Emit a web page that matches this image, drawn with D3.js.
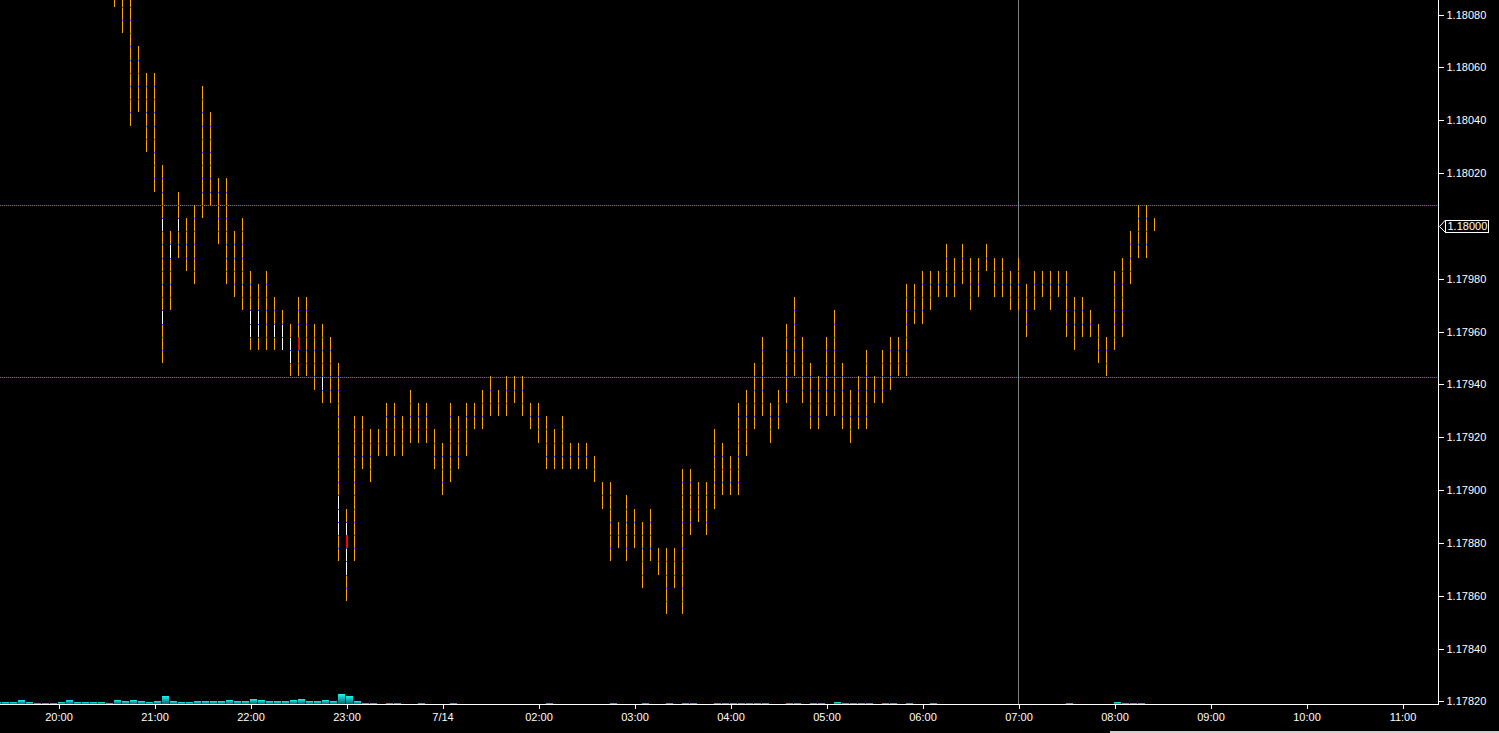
<!DOCTYPE html>
<html>
<head>
<meta charset="utf-8">
<script src="https://cdn.jsdelivr.net/npm/d3@7"></script>
<style>
  html, body { margin: 0; padding: 0; background: #000; overflow: hidden; }
  svg { display: block; }
  text { font-family: "Liberation Sans", Arial, sans-serif; font-size: 11px; fill: #fff; }
</style>
</head>
<body>
<svg id="chart" width="1499" height="733"></svg>
<script>
// ---------------- DATA ----------------
// 5-minute bars, index 0 = 21:00 bar
const barStart = -5;
const highs = [
  1.18098, 1.18098, 1.18093, 1.18068, 1.18058,
  1.18058, 1.18023, 1.17998, 1.18013, 1.18003, 1.18008, 1.18053, 1.18043, 1.18018, 1.18018,
  1.17998, 1.18003, 1.17983, 1.17978, 1.17983, 1.17973, 1.17968, 1.17963, 1.17973, 1.17973,
  1.17963, 1.17963, 1.17958, 1.17948, 1.17893, 1.17928, 1.17928, 1.17923, 1.17923, 1.17933,
  1.17933, 1.17928, 1.17938, 1.17933, 1.17933, 1.17923, 1.17918, 1.17933, 1.17928, 1.17933,
  1.17933, 1.17938, 1.17943, 1.17938, 1.17943, 1.17943, 1.17943, 1.17933, 1.17933, 1.17928,
  1.17923, 1.17928, 1.17918, 1.17918, 1.17918, 1.17913, 1.17903, 1.17903, 1.17888, 1.17898,
  1.17893, 1.17888, 1.17893, 1.17878, 1.17878, 1.17878, 1.17908, 1.17908, 1.17903, 1.17903,
  1.17923, 1.17918, 1.17913, 1.17933, 1.17938, 1.17948, 1.17958, 1.17933, 1.17938, 1.17963,
  1.17973, 1.17958, 1.17948, 1.17943, 1.17958, 1.17968, 1.17948, 1.17938, 1.17943, 1.17953,
  1.17943, 1.17953, 1.17958, 1.17958, 1.17978, 1.17978, 1.17983, 1.17983, 1.17983, 1.17993,
  1.17988, 1.17993, 1.17988, 1.17988, 1.17993, 1.17988, 1.17988, 1.17983, 1.17988, 1.17978,
  1.17983, 1.17983, 1.17983, 1.17983, 1.17983, 1.17973, 1.17973, 1.17968, 1.17963, 1.17958,
  1.17983, 1.17988, 1.17998, 1.18008, 1.18008, 1.18003
];
const lows = [
  1.18083, 1.18073, 1.18038, 1.18043, 1.18028,
  1.18013, 1.17948, 1.17968, 1.17988, 1.17983, 1.17978, 1.18003, 1.18008, 1.17993, 1.17978,
  1.17973, 1.17968, 1.17953, 1.17953, 1.17953, 1.17953, 1.17953, 1.17943, 1.17943, 1.17943,
  1.17938, 1.17933, 1.17933, 1.17873, 1.17858, 1.17873, 1.17908, 1.17903, 1.17913, 1.17913,
  1.17913, 1.17913, 1.17918, 1.17918, 1.17918, 1.17908, 1.17898, 1.17903, 1.17908, 1.17913,
  1.17923, 1.17923, 1.17928, 1.17928, 1.17928, 1.17933, 1.17928, 1.17923, 1.17918, 1.17908,
  1.17908, 1.17908, 1.17908, 1.17908, 1.17908, 1.17903, 1.17893, 1.17873, 1.17878, 1.17873,
  1.17878, 1.17863, 1.17873, 1.17868, 1.17853, 1.17863, 1.17853, 1.17883, 1.17888, 1.17883,
  1.17893, 1.17898, 1.17898, 1.17898, 1.17913, 1.17923, 1.17928, 1.17918, 1.17923, 1.17933,
  1.17943, 1.17933, 1.17923, 1.17923, 1.17928, 1.17928, 1.17923, 1.17918, 1.17923, 1.17923,
  1.17933, 1.17933, 1.17938, 1.17943, 1.17943, 1.17963, 1.17963, 1.17968, 1.17973, 1.17973,
  1.17973, 1.17978, 1.17968, 1.17973, 1.17983, 1.17973, 1.17973, 1.17968, 1.17968, 1.17958,
  1.17968, 1.17973, 1.17968, 1.17973, 1.17958, 1.17953, 1.17958, 1.17958, 1.17948, 1.17943,
  1.17953, 1.17958, 1.17978, 1.17988, 1.17988, 1.17998
];
// highlighted segments on bars: [bar index, from price, to price]
const whiteSegs = [
  [1, 1.18003, 1.17998], [1, 1.17968, 1.17963], [2, 1.17993, 1.17988], [3, 1.18003, 1.17998],
  [12, 1.17968, 1.17958], [13, 1.17968, 1.17958], [15, 1.17963, 1.17958], [16, 1.17963, 1.17953],
  [17, 1.17958, 1.17948], [21, 1.17943, 1.17938], [23, 1.17898, 1.17883],
  [24, 1.17888, 1.17883], [24, 1.17878, 1.17868]
];
const redSegs = [[18, 1.17958, 1.17953], [24, 1.17883, 1.17878]];

// tick volume, index of first value
const volStart = -20;
const volumes = [
  20, 20, 20, 40, 20, 10, 10, 10, 20, 40, 20, 20, 20, 20, 10, 40, 30, 40, 30, 20,
  30, 80, 30, 20, 20, 30, 30, 30, 30, 40, 30, 30, 50, 40, 30, 30, 30, 40, 50, 30,
  30, 40, 30, 100, 80, 30, 10, 10, 0, 10, 10, 0, 0, 10, 0, 0, 0, 10, 0, 0,
  0, 0, 0, 0, 0, 0, 0, 0, 0, 10, 0, 0, 0, 0, 0, 0, 0, 10, 0, 0,
  0, 10, 0, 0, 10, 0, 10, 10, 0, 0, 10, 10, 10, 10, 10, 10, 10, 0, 0, 10,
  10, 0, 10, 10, 0, 20, 10, 10, 10, 10, 0, 10, 10, 0, 10, 0, 0, 10, 0, 0,
  0, 0, 0, 0, 0, 0, 0, 0, 0, 0, 0, 0, 0, 0, 10, 0, 0, 0, 0, 0,
  20, 10, 10, 10, 0, 0
];

const hourLabels = ["20:00","21:00","22:00","23:00","7/14","02:00","03:00","04:00","05:00","06:00","07:00","08:00","09:00","10:00","11:00"];
const hourIndex = [-12, 0, 12, 24, 36, 48, 60, 72, 84, 96, 108, 120, 132, 144, 156];
const priceTicks = [1.17820,1.17840,1.17860,1.17880,1.17900,1.17920,1.17940,1.17960,1.17980,1.18000,1.18020,1.18040,1.18060,1.18080];
const lastPrice = 1.18000;
const refLines = [1.18008, 1.17943];
const cursorIndex = 108;

// ---------------- CHART ----------------
const W = 1499, H = 733;
const axisX = 1438.5, axisY = 704.5;
const svg = d3.select("#chart");

const x = d3.scaleLinear().domain([-12, 156]).range([58.5, 1402.5]);
const y = d3.scaleLinear().domain([1.17820, 1.18080]).range([701.4, 14.6]);
const v = d3.scaleLinear().domain([0, 100]).range([0, 10]);

const defs = svg.append("defs");
defs.append("clipPath").attr("id", "plot").append("rect")
  .attr("x", 0).attr("y", 0).attr("width", axisX).attr("height", axisY - 0.5);
const grad = defs.append("linearGradient").attr("id", "volg")
  .attr("x1", 0).attr("y1", 0).attr("x2", 0).attr("y2", 1);
grad.append("stop").attr("offset", "0%").attr("stop-color", "#1ff5f5");
grad.append("stop").attr("offset", "100%").attr("stop-color", "#006a6a");
const pat = defs.append("pattern").attr("id", "dotpat")
  .attr("patternUnits", "userSpaceOnUse").attr("width", 2).attr("height", 1);
pat.append("rect").attr("x", 0).attr("y", 0).attr("width", 1).attr("height", 1).attr("fill", "#e0288a");

const plot = svg.append("g").attr("clip-path", "url(#plot)").attr("shape-rendering", "crispEdges");

// reference dotted lines
plot.selectAll("rect.ref").data(refLines).join("rect")
  .attr("class", "ref")
  .attr("x", 0).attr("width", axisX - 0.5)
  .attr("y", d => Math.ceil(y(d))).attr("height", 1)
  .attr("fill", "url(#dotpat)");

// cursor vertical line
plot.append("rect")
  .attr("x", x(cursorIndex) - 0.5).attr("width", 1)
  .attr("y", 0).attr("height", axisY)
  .attr("fill", "#808080");

// volume bars
const volData = volumes.map((d, k) => ({ i: volStart + k, v: d })).filter(d => d.v > 0);
plot.selectAll("rect.vol").data(volData).join("rect")
  .attr("class", "vol")
  .attr("x", d => x(d.i) - 0.5)
  .attr("width", 7)
  .attr("y", d => axisY - 0.5 - Math.round(v(d.v)))
  .attr("height", d => Math.round(v(d.v)))
  .attr("fill", "url(#volg)");

// price bars
const bars = highs.map((h, k) => ({ i: barStart + k, h: h, l: lows[k] }));
plot.selectAll("rect.bar").data(bars).join("rect")
  .attr("class", "bar")
  .attr("x", d => x(d.i) - 0.5)
  .attr("width", 1)
  .attr("y", d => Math.round(y(d.h)))
  .attr("height", d => Math.max(1, Math.round(y(d.l)) - Math.round(y(d.h))))
  .attr("fill", "#ffa500");

// white / red segments
plot.selectAll("rect.wseg").data(whiteSegs).join("rect")
  .attr("class", "wseg")
  .attr("x", d => x(d[0]) - 0.5).attr("width", 1)
  .attr("y", d => Math.round(y(d[1])))
  .attr("height", d => Math.round(y(d[2])) - Math.round(y(d[1])))
  .attr("fill", "#ffffff");
plot.selectAll("rect.rseg").data(redSegs).join("rect")
  .attr("class", "rseg")
  .attr("x", d => x(d[0]) - 0.5).attr("width", 2)
  .attr("y", d => Math.round(y(d[1])))
  .attr("height", d => Math.round(y(d[2])) - Math.round(y(d[1])))
  .attr("fill", "#ff0000");

// blue level dots along bars (every 5 pips)
const dots = [];
bars.forEach(b => {
  const hp = Math.round(b.h * 1e5), lp = Math.round(b.l * 1e5);
  for (let p = lp + 1; p < hp; p++) {
    if (((p % 5) + 5) % 5 === 3) dots.push({ i: b.i, p: p / 1e5 });
  }
});
plot.selectAll("rect.dot").data(dots).join("rect")
  .attr("class", "dot")
  .attr("x", d => x(d.i) - 0.5).attr("width", 1)
  .attr("y", d => Math.round(y(d.p))).attr("height", 1)
  .attr("fill", "#2a4cff");

// axes lines
svg.append("line").attr("x1", 0).attr("x2", axisX).attr("y1", axisY).attr("y2", axisY)
  .attr("stroke", "#fff").attr("shape-rendering", "crispEdges");
svg.append("line").attr("x1", axisX).attr("x2", axisX).attr("y1", 0).attr("y2", axisY)
  .attr("stroke", "#fff").attr("shape-rendering", "crispEdges");

// y axis
const yAxis = d3.axisRight(y).tickValues(priceTicks).tickFormat(d3.format(".5f"))
  .tickSize(5).tickPadding(3);
const gy = svg.append("g").attr("transform", `translate(${axisX},0)`).call(yAxis);
gy.select(".domain").remove();
gy.selectAll(".tick line").attr("stroke", "#fff").attr("shape-rendering", "crispEdges");
gy.selectAll(".tick text").attr("fill", "#fff").style("font-family", '"Liberation Sans", Arial, sans-serif').style("font-size", "11px");
gy.selectAll(".tick").filter(d => Math.abs(d - lastPrice) < 1e-9).remove();

// x axis
const xAxis = d3.axisBottom(x).tickValues(hourIndex)
  .tickFormat((d, k) => hourLabels[k]).tickSize(4).tickPadding(5);
const gx = svg.append("g").attr("transform", `translate(0,${axisY})`).call(xAxis);
gx.select(".domain").remove();
gx.selectAll(".tick line").attr("stroke", "#fff").attr("shape-rendering", "crispEdges");
gx.selectAll(".tick text").attr("fill", "#fff").style("font-family", '"Liberation Sans", Arial, sans-serif').style("font-size", "11px");

// last price marker
const ly = Math.round(y(lastPrice)) + 0.5;
const lp = svg.append("g").attr("shape-rendering", "crispEdges");
lp.append("rect").attr("x", 1445.5).attr("y", ly - 6.5).attr("width", 43).attr("height", 12.5)
  .attr("fill", "#000").attr("stroke", "#fff").attr("stroke-width", 1);
lp.append("path").attr("d", `M1445.5,${ly - 6.5} L${axisX + 1},${ly} L1445.5,${ly + 6}`)
  .attr("fill", "none").attr("stroke", "#fff").attr("stroke-width", 1).attr("shape-rendering", "auto");
lp.append("text").attr("x", 1447.5).attr("y", ly).attr("dy", "0.34em").text(d3.format(".5f")(lastPrice));

// bottom scrollbar strip
svg.append("rect").attr("x", 1110).attr("y", 731).attr("width", W - 1110).attr("height", 2)
  .attr("fill", "#cfcfcf");
</script>
</body>
</html>
